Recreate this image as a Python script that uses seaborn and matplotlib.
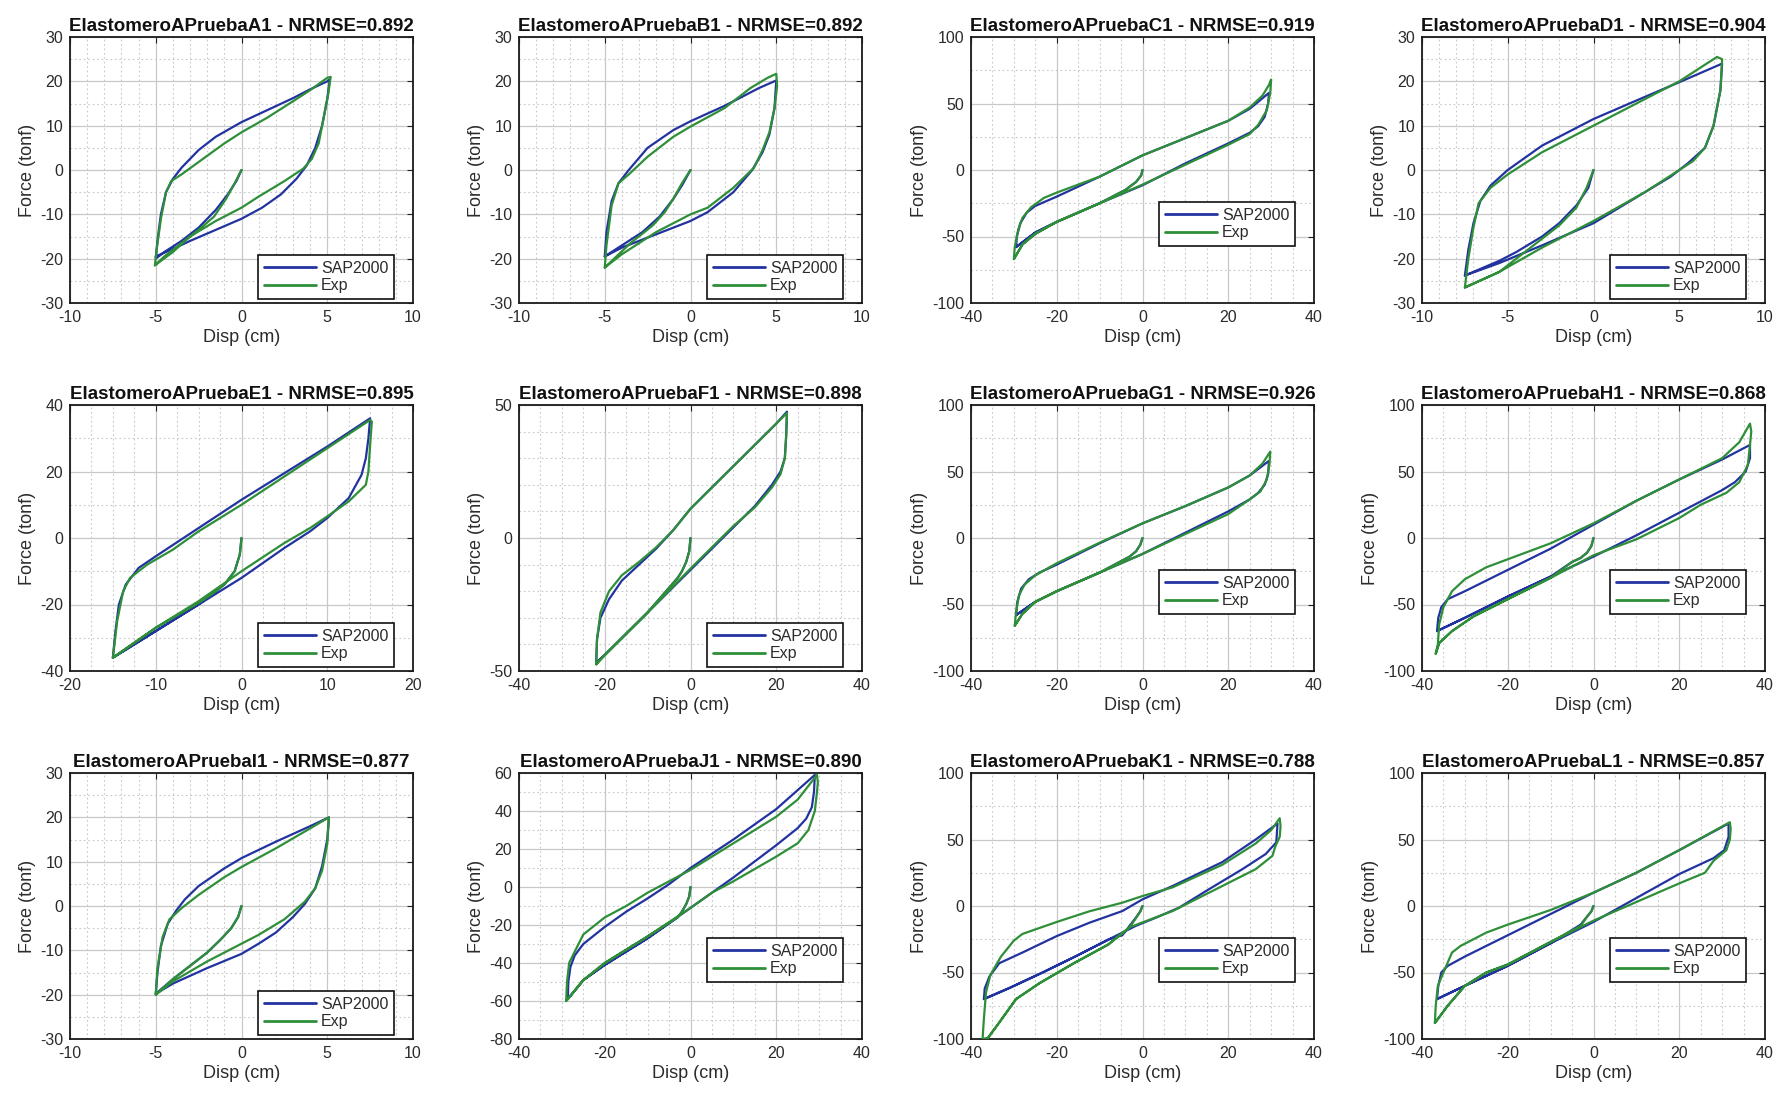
import numpy as np
import pandas as pd
import matplotlib
matplotlib.use("Agg")
import matplotlib.pyplot as plt
from matplotlib.lines import Line2D
from matplotlib.ticker import MultipleLocator
import seaborn as sns

sns.set_theme(style="white")
plt.rcParams['font.family'] = ['Liberation Sans', 'DejaVu Sans']
plt.rcParams['axes.unicode_minus'] = False

# ---------------- data (Disp in cm, Force in tonf) ----------------
TESTS = ["A1", "B1", "C1", "D1", "E1", "F1", "G1", "H1", "I1", "J1", "K1", "L1"]
NRMSE = ["0.892", "0.892", "0.919", "0.904", "0.895", "0.898",
         "0.926", "0.868", "0.877", "0.890", "0.788", "0.857"]

A1_SAP_D = [0, -0.3, -0.8, -1.5, -2.5, -3.5, -4.5, -5.0, -4.9, -4.7, -4.4, -4.0, -3.5, -2.5, -1.5, 0, 1.5, 3.0, 4.0, 5.0, 5.15, 5.0, 4.7, 4.3, 3.8, 3.2, 2.3, 1.2, 0, -1.5, -3.0, -4.0, -5.0]
A1_SAP_F = [0, -2.5, -5.5, -9.0, -13.0, -16.0, -18.5, -20.0, -16.0, -10.0, -5.0, -2.0, 0.5, 4.5, 7.5, 10.8, 13.5, 16.2, 18.2, 20.0, 20.5, 16.0, 10.0, 5.0, 1.0, -2.0, -5.5, -8.5, -11.0, -13.5, -16.0, -17.8, -19.5]
A1_EXP_D = [0, -0.4, -0.9, -1.6, -2.5, -3.5, -4.5, -5.05, -4.95, -4.7, -4.4, -4.1, -3.5, -2.5, -1.0, 0, 1.5, 3.0, 4.0, 5.0, 5.2, 5.05, 4.8, 4.5, 4.1, 3.6, 2.5, 1.0, 0, -1.5, -3.0, -4.0, -5.05]
A1_EXP_F = [0, -3.0, -6.5, -10.5, -13.5, -16.5, -19.5, -21.5, -18.0, -11.0, -5.0, -2.5, -1.0, 1.8, 6.0, 8.5, 11.8, 15.5, 18.0, 20.8, 21.0, 17.0, 12.0, 6.0, 2.5, 0.3, -2.5, -6.0, -8.5, -11.5, -15.0, -18.5, -21.5]

B1_SAP_D = [0, -0.5, -1.0, -1.8, -2.8, -4.0, -5.0, -4.9, -4.6, -4.2, -3.6, -2.5, -1.0, 0, 2.0, 4.0, 5.0, 4.9, 4.6, 4.2, 3.6, 2.5, 1.0, 0, -2.0, -4.0, -5.0]
B1_SAP_F = [0, -3.5, -6.5, -10.5, -14.0, -17.0, -19.5, -14.0, -7.0, -3.0, 0.0, 5.0, 9.0, 11.0, 14.5, 18.5, 20.2, 14.0, 8.0, 4.0, 0.0, -5.0, -9.5, -11.5, -14.5, -17.5, -19.5]
B1_EXP_D = [0, -0.5, -1.0, -1.5, -2.2, -3.5, -5.0, -4.9, -4.6, -4.2, -3.6, -2.5, -1.0, 0, 2.0, 3.5, 4.5, 5.0, 5.05, 4.9, 4.6, 4.2, 3.7, 2.5, 1.0, 0, -2.0, -4.0, -5.0]
B1_EXP_F = [0, -3.0, -6.5, -9.5, -12.5, -16.5, -22.0, -17.0, -8.0, -3.0, -1.0, 3.0, 7.5, 9.8, 14.0, 18.5, 20.8, 21.7, 19.0, 14.0, 8.5, 4.5, 0.5, -4.0, -8.5, -10.0, -14.0, -19.0, -22.0]

C1_SAP_D = [0, -0.3, -1.5, -4, -10, -20, -25, -29.5, -29.3, -28.5, -27, -25, -20, -15, -10, -5, 0, 10, 20, 25, 29.5, 29.3, 28.5, 27, 25, 20, 10, 0, -10, -20, -25, -29.5]
C1_SAP_F = [0, -4, -9, -15, -25, -39, -47, -58, -50, -40, -32, -27, -20, -12.5, -5, 3, 11, 24, 37, 46, 58, 50, 40, 33, 28, 20, 5, -11.5, -25, -39, -47, -58]
C1_EXP_D = [0, -0.3, -1.5, -4, -10, -20, -25, -28, -30, -29.8, -29, -28, -26, -23, -20, -15, -10, 0, 10, 20, 25, 28, 29.5, 30, 29.8, 29, 27, 25, 20, 10, 0, -10, -20, -25, -28, -30]
C1_EXP_F = [0, -4, -9, -15, -25, -39, -48, -56, -67, -58, -45, -36, -28, -21, -17, -11, -5, 11, 24, 37, 47, 56, 64, 68, 58, 45, 34, 27, 19, 4, -11, -25, -39, -48, -56, -67]

D1_SAP_D = [0, -0.3, -1, -2, -3, -4.5, -5.5, -7.5, -7.3, -7, -6.6, -6, -5, -3, 0, 3, 5, 7.5, 7.4, 7, 6.5, 5.5, 4.5, 3, 0, -3, -5.5, -7.5]
D1_SAP_F = [0, -4, -8, -12, -15, -18.5, -20.5, -23.8, -18, -12, -7, -3.5, 0, 5.5, 11.5, 16.5, 19.8, 24, 18, 10, 5, 1.5, -1.5, -5, -12, -17, -21, -23.8]
D1_EXP_D = [0, -0.4, -1, -2, -3.5, -5.5, -7.5, -7.3, -7, -6.7, -6, -5, -3, 0, 3, 5, 7.2, 7.5, 7.4, 7, 6.5, 5.8, 5, 3, 0, -3, -5.5, -7.5]
D1_EXP_F = [0, -4, -8.5, -12.5, -17, -23, -26.5, -20, -13, -7.5, -4, -1, 4, 10, 16, 20, 25.5, 25, 18, 10, 5, 2, 0, -5, -11.5, -17.5, -23, -26.5]

E1_SAP_D = [0, -0.2, -0.8, -2, -3.5, -5, -10, -15, -14.7, -14.3, -13.5, -12, -10, -5, 0, 5, 10, 15, 14.8, 14.5, 14, 12.5, 10, 8, 5, 0, -5, -10, -15]
E1_SAP_F = [0, -5, -10, -14, -17, -20, -28, -36, -28, -20, -14, -9, -5.5, 3, 11.5, 19.5, 27.5, 36, 30, 24, 19, 12, 6, 2, -3, -12, -20, -28, -36]
E1_EXP_D = [0, -0.2, -0.8, -2, -3.5, -5, -10, -15, -14.5, -13.8, -13, -11, -8, -5, 0, 5, 10, 15, 15.2, 15, 14.8, 14.5, 12.5, 10, 8, 5, 0, -5, -10, -15]
E1_EXP_F = [0, -5, -10, -14, -17, -19.5, -27, -36, -25, -16, -12, -8, -3.5, 2, 10, 18.5, 27, 35.5, 35, 28, 20, 16, 11, 6.5, 3, -1.5, -10, -19, -27, -36]

F1_SAP_D = [0, -0.3, -1, -2, -3, -10, -20, -22, -21.8, -21, -19, -16, -12, -8, -4, 0, 10, 20, 22.5, 22.3, 22, 21, 19, 15, 10, 5, 0, -10, -20, -22]
F1_SAP_F = [0, -5, -9, -12.5, -15, -28, -44, -47, -38, -30, -23, -16, -10, -4, 3, 11, 27, 43, 47.5, 38, 30, 25, 20, 12, 4, -4, -12, -28, -44, -47]
F1_EXP_D = [0, -0.3, -1, -2, -3, -10, -20, -22, -21.8, -21, -19, -16, -12, -8, -4, 0, 10, 20, 22.5, 22.3, 22, 21, 19, 15, 10, 5, 0, -10, -20, -22]
F1_EXP_F = [0, -5, -9, -12.5, -15, -28, -44, -47.5, -38, -28, -20, -14, -9, -3.5, 3, 11, 27, 43, 47, 38, 30, 24, 19, 11.5, 4.5, -3.5, -11.5, -28, -44, -47.5]

G1_SAP_D = [0, -0.5, -1.5, -3, -10, -20, -25, -29.5, -29.2, -28.3, -26.5, -24, -20, -10, 0, 10, 20, 25, 29.5, 29.3, 28.5, 27, 25, 20, 10, 0, -10, -20, -25, -29.5]
G1_SAP_F = [0, -5, -10, -14, -26, -40, -48, -58, -48, -38, -31, -26, -20, -4, 11, 24, 38, 47, 58, 48, 40, 34, 29, 20, 4, -12, -26, -40, -48, -58]
G1_EXP_D = [0, -0.5, -1.5, -3, -10, -20, -25, -28, -29.8, -29.5, -28.8, -27.5, -25, -20, -10, 0, 10, 20, 25, 28, 29.8, 29.6, 29, 27.5, 25, 20, 10, 0, -10, -20, -25, -28, -29.8]
G1_EXP_F = [0, -5, -10, -14, -26, -40, -48, -57, -66, -56, -43, -35, -28, -19, -3.5, 11, 24, 38, 47, 56, 65, 55, 44, 35, 29, 18, 3, -12, -26, -40, -48, -57, -66]

H1_SAP_D = [0, -0.5, -1.5, -3, -5, -10, -20, -30, -36.5, -36.2, -35.5, -34, -30, -20, -10, 0, 10, 20, 30, 36.5, 36.5, 35.5, 33, 30, 20, 10, 0, -10, -20, -30, -36.5]
H1_SAP_F = [0, -6, -11, -15, -18, -29, -44, -60, -70, -60, -52, -46, -40, -24, -8, 10, 28, 44, 59, 70, 60, 50, 42, 36, 19, 2, -14, -29, -44, -60, -70]
H1_EXP_D = [0, -0.5, -1.5, -3, -5, -10, -20, -28, -33, -36, -36.8, -36.3, -36, -35, -33, -30, -25, -20, -10, 0, 10, 20, 30, 34, 36.5, 36.8, 36.5, 36, 34, 31, 25, 20, 10, 0, -10, -20, -28, -33, -36, -36.8]
H1_EXP_F = [0, -6, -11, -15, -18, -30, -46, -59, -70, -79, -87, -80, -65, -52, -40, -31, -22, -16, -4, 11, 28, 44, 60, 72, 86, 80, 70, 55, 42, 34, 25, 15, -1, -13, -30, -46, -59, -70, -79, -87]

I1_SAP_D = [0, -0.2, -0.6, -1.2, -2, -3, -4, -5, -4.9, -4.7, -4.3, -3.8, -3.3, -2.5, -1, 0, 2, 4, 5.1, 5, 4.7, 4.3, 3.7, 3, 2, 1, 0, -2, -4, -5]
I1_SAP_F = [0, -2.5, -5, -7.5, -10.5, -13.5, -16.5, -19.8, -15, -9, -4, -1, 1.5, 4.5, 8.5, 10.8, 14.5, 18, 20, 15, 9, 4, 0.5, -2.5, -6, -8.5, -10.8, -14, -17.5, -19.8]
I1_EXP_D = [0, -0.2, -0.6, -1.2, -2, -3, -4, -5, -4.9, -4.6, -4.2, -3.5, -2.5, -1, 0, 2, 4, 5.1, 5, 4.7, 4.3, 3.7, 2.5, 1, 0, -2, -4, -5]
I1_EXP_F = [0, -2.5, -5, -7.5, -10.5, -13.5, -16.5, -20, -14, -7, -3, -0.5, 2.5, 6.5, 8.8, 13, 17.5, 20, 14, 8, 4, 1, -3, -6.5, -8.5, -12.5, -17, -20]

J1_SAP_D = [0, -0.3, -1, -2, -3, -10, -20, -25, -28.6, -28.5, -28, -27, -25, -20, -15, -10, -5, 0, 10, 20, 29, 28.8, 28.3, 27, 25, 20, 10, 5, 0, -10, -20, -25, -28.6]
J1_SAP_F = [0, -5, -9, -13, -16, -27, -41, -49, -59, -50, -42, -36, -30, -21, -13, -6, 1.5, 10, 25, 41, 59, 50, 42, 36, 31, 22, 5, -3, -11, -27, -41, -49, -59]
J1_EXP_D = [0, -0.3, -1, -2, -3, -10, -20, -25, -29, -28.8, -28.3, -27, -25, -20, -15, -10, -5, 0, 10, 20, 25, 29.5, 29.7, 29.5, 29, 27.5, 25, 20, 10, 5, 0, -10, -20, -25, -29]
J1_EXP_F = [0, -5, -9, -13, -16, -26, -40, -49, -60, -50, -40, -34, -25, -16, -10, -3, 3, 9, 23, 37, 46, 59, 55, 50, 40, 30, 23, 16, 3, -3, -11, -26, -40, -49, -60]

K1_SAP_D = [0, -0.5, -1.6, -4.7, -7.8, -15.5, -23.3, -31, -37, -36.8, -35.7, -33.4, -28, -20, -12.4, -4.7, 0, 7, 18.6, 26.4, 31.5, 31.2, 28.7, 23.3, 15.5, 8.5, 3.1, -1.6, -7.8, -15.5, -23.3, -31, -37]
K1_SAP_F = [0, -4, -9, -22, -25, -37.7, -50, -61.6, -70, -62, -53, -43, -35, -22.6, -12.6, -3.8, 5, 15, 33, 50, 62, 47.8, 39, 27.7, 12.6, -1.3, -8.8, -15, -25, -37.7, -50, -61.6, -70]
K1_EXP_D = [0, -0.5, -1.5, -3, -8, -16, -24, -29.5, -33.5, -36, -37.3, -37, -36.5, -35.5, -33, -30, -28, -20, -12.4, -4.7, 0, 7, 18.6, 26.4, 30, 32, 32.2, 32, 31, 30.3, 26.4, 18.6, 7, -3, -8, -16, -24, -29.5, -33.5, -36]
K1_EXP_F = [0, -4, -9, -16, -29, -43, -58, -70, -88, -99, -100, -85, -65, -52, -38, -26, -21, -12, -4, 2.5, 7.5, 14, 31, 47, 57, 66, 60, 52, 45, 37.7, 27.7, 15, -3.8, -16, -29, -43, -58, -70, -88, -99]

L1_SAP_D = [0, -0.5, -1.5, -3, -10, -20, -30, -36.5, -36.2, -35.5, -34, -30, -20, -10, 0, 10, 20, 31.5, 31.5, 30.5, 28, 20, 10, 0, -10, -20, -30, -36.5]
L1_SAP_F = [0, -4, -8, -14, -28, -45, -60, -70, -60, -50, -45, -38, -22, -6, 10, 25, 42, 62, 52, 42, 36, 24, 6, -12, -28, -45, -60, -70]
L1_EXP_D = [0, -0.5, -1.5, -3, -10, -20, -25, -30, -34, -37, -36.8, -36.3, -35, -33, -31, -25, -20, -10, 0, 10, 20, 31.8, 32, 31.8, 31, 28, 26, 20, 10, 0, -10, -20, -25, -30, -34, -37]
L1_EXP_F = [0, -4, -8, -15, -27, -44, -50, -60, -75, -88, -75, -60, -50, -35, -30, -20, -14, -3, 10, 25, 42, 63, 58, 50, 42, 34, 25, 17, 3, -11, -27, -44, -50, -60, -75, -88]

# axis limits / tick spacing per panel: (xmin, xmax, xmajor, xminor, ymin, ymax, ymajor, yminor)
AXES = {
    "A1": (-10, 10, 5, 1, -30, 30, 10, 5),
    "B1": (-10, 10, 5, 1, -30, 30, 10, 5),
    "C1": (-40, 40, 20, 5, -100, 100, 50, 25),
    "D1": (-10, 10, 5, 1, -30, 30, 10, 5),
    "E1": (-20, 20, 10, 2.5, -40, 40, 20, 10),
    "F1": (-40, 40, 20, 5, -50, 50, 50, 10),
    "G1": (-40, 40, 20, 5, -100, 100, 50, 25),
    "H1": (-40, 40, 20, 5, -100, 100, 50, 25),
    "I1": (-10, 10, 5, 1, -30, 30, 10, 5),
    "J1": (-40, 40, 20, 5, -80, 60, 20, 10),
    "K1": (-40, 40, 20, 5, -100, 100, 50, 25),
    "L1": (-40, 40, 20, 5, -100, 100, 50, 25),
}
# legend bottom (axes fraction)
LEG_Y = {"A1": 0.015, "B1": 0.015, "C1": 0.215, "D1": 0.015, "E1": 0.015, "F1": 0.015,
         "G1": 0.215, "H1": 0.215, "I1": 0.015, "J1": 0.215, "K1": 0.215, "L1": 0.215}

BLUE = "#2233a0"
GREEN = "#2e8f38"
TXT = "#2b2b2b"

W, H = 1779, 1094
fig = plt.figure(figsize=(W / 100, H / 100), dpi=100)
fig.patch.set_facecolor("white")

col_left = [70, 519, 971, 1422]
row_top = [37, 405, 773]
aw, ah = 343, 266

g = globals()
for i, t in enumerate(TESTS):
    r, c = divmod(i, 4)
    ax = fig.add_axes([col_left[c] / W, 1 - (row_top[r] + ah) / H, aw / W, ah / H])
    sd, sf = g[f"{t}_SAP_D"], g[f"{t}_SAP_F"]
    ed, ef = g[f"{t}_EXP_D"], g[f"{t}_EXP_F"]
    df = pd.DataFrame({
        "disp": list(sd) + list(ed),
        "force": list(sf) + list(ef),
        "series": ["SAP2000"] * len(sd) + ["Exp"] * len(ed),
    })
    sns.lineplot(data=df, x="disp", y="force", hue="series", sort=False, estimator=None,
                 palette={"SAP2000": BLUE, "Exp": GREEN}, linewidth=1.6, ax=ax,
                 legend=False, zorder=3)
    x0, x1, xM, xm, y0, y1, yM, ym = AXES[t]
    ax.set_xlim(x0, x1)
    ax.set_ylim(y0, y1)
    ax.xaxis.set_major_locator(MultipleLocator(xM))
    ax.xaxis.set_minor_locator(MultipleLocator(xm))
    ax.yaxis.set_major_locator(MultipleLocator(yM))
    ax.yaxis.set_minor_locator(MultipleLocator(ym))
    ax.grid(which="major", color="#c8c8c8", linewidth=0.9, linestyle="-", zorder=0)
    ax.grid(which="minor", color="#c8c8c8", linewidth=0.8, linestyle=(0, (1.5, 2.5)), zorder=0)
    ax.set_axisbelow(True)
    ax.tick_params(which="major", direction="in", length=4, width=0.8, color="#222222",
                   top=True, right=True, labelsize=11.5, labelcolor=TXT, pad=5)
    ax.tick_params(which="minor", length=0)
    for s in ax.spines.values():
        s.set_color("#1a1a1a")
        s.set_linewidth(1.3)
        s.set_visible(True)
    ax.set_xlabel("Disp (cm)", fontsize=13, color=TXT, labelpad=3)
    ax.set_ylabel("Force (tonf)", fontsize=13, color=TXT, labelpad=3)
    ax.set_title(f"ElastomeroAPrueba{t} - NRMSE={NRMSE[i]}", fontsize=13.5,
                 fontweight="bold", color="#111111", pad=4)
    handles = [Line2D([], [], color=BLUE, lw=2.0), Line2D([], [], color=GREEN, lw=2.0)]
    leg = ax.legend(handles, ["SAP2000", "Exp"], loc="lower right",
                    bbox_to_anchor=(0.945, LEG_Y[t]), fontsize=11.5, frameon=True,
                    fancybox=False, framealpha=1, edgecolor="#111111", borderpad=0.35,
                    labelspacing=0.15, handlelength=3.3, handletextpad=0.3,
                    borderaxespad=0.0)
    leg.get_frame().set_linewidth(1.2)
    for tx in leg.get_texts():
        tx.set_color(TXT)

fig.savefig("out.png", dpi=100, facecolor="white")
